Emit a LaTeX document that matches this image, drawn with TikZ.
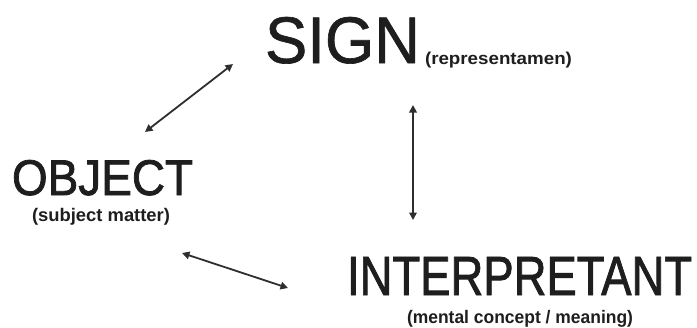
\documentclass[tikz,border=0pt]{standalone}
\usepackage{fontspec}
\setmainfont{Liberation Sans}
\newfontfamily\signfont[FakeBold=1]{Liberation Sans}
\newfontfamily\headfont[FakeBold=1.6]{Liberation Sans}
\usepackage{graphicx}
\usetikzlibrary{arrows.meta}
\definecolor{ink}{HTML}{1E1E1E}
\definecolor{arrowink}{HTML}{2E2E2E}
\tikzset{
  lbl/.style={inner sep=0pt, outer sep=0pt, text=ink},
  link/.style={draw=arrowink, line width=1.8pt, {Triangle[length=7.5bp,width=7.5bp]}-{Triangle[length=7.5bp,width=7.5bp]}}
}
\newcommand{\bigtxt}[3]{\resizebox{#1bp}{#2bp}{#3}}
\newcommand{\smalltxt}[3]{\resizebox*{#1bp}{#2bp}{\bfseries #3}}
\begin{document}
\begin{tikzpicture}[x=1bp,y=-1bp]
\useasboundingbox[fill=white] (0,0) rectangle (697,327);
% titles
\node[lbl, anchor=base west] (sign) at (265,63) {\bigtxt{155}{46}{\signfont SIGN}};
\node[lbl, anchor=north west] (signsub) at (425,52) {\smalltxt{147}{16}{(representamen)}};
\node[lbl, anchor=base west] (object) at (12,195) {\bigtxt{181}{35}{\headfont OBJECT}};
\node[lbl, anchor=north west] (objsub) at (32,208) {\smalltxt{138}{17}{(subject matter)}};
\node[lbl, anchor=base west] (interp) at (347,295) {\bigtxt{345}{38}{\headfont INTERPRETANT}};
\node[lbl, anchor=north west] (intsub) at (407,310) {\smalltxt{226}{17}{(mental concept / meaning)}};
% arrow end points
\coordinate (a1) at (233,64);
\coordinate (a2) at (145,132);
\coordinate (b1) at (182,253);
\coordinate (b2) at (288,288);
\coordinate (c1) at (413,105);
\coordinate (c2) at (413,220);
\draw[link] (a1) -- (a2);
\draw[link] (b1) -- (b2);
\draw[link] (c1) -- (c2);
\end{tikzpicture}
\end{document}
